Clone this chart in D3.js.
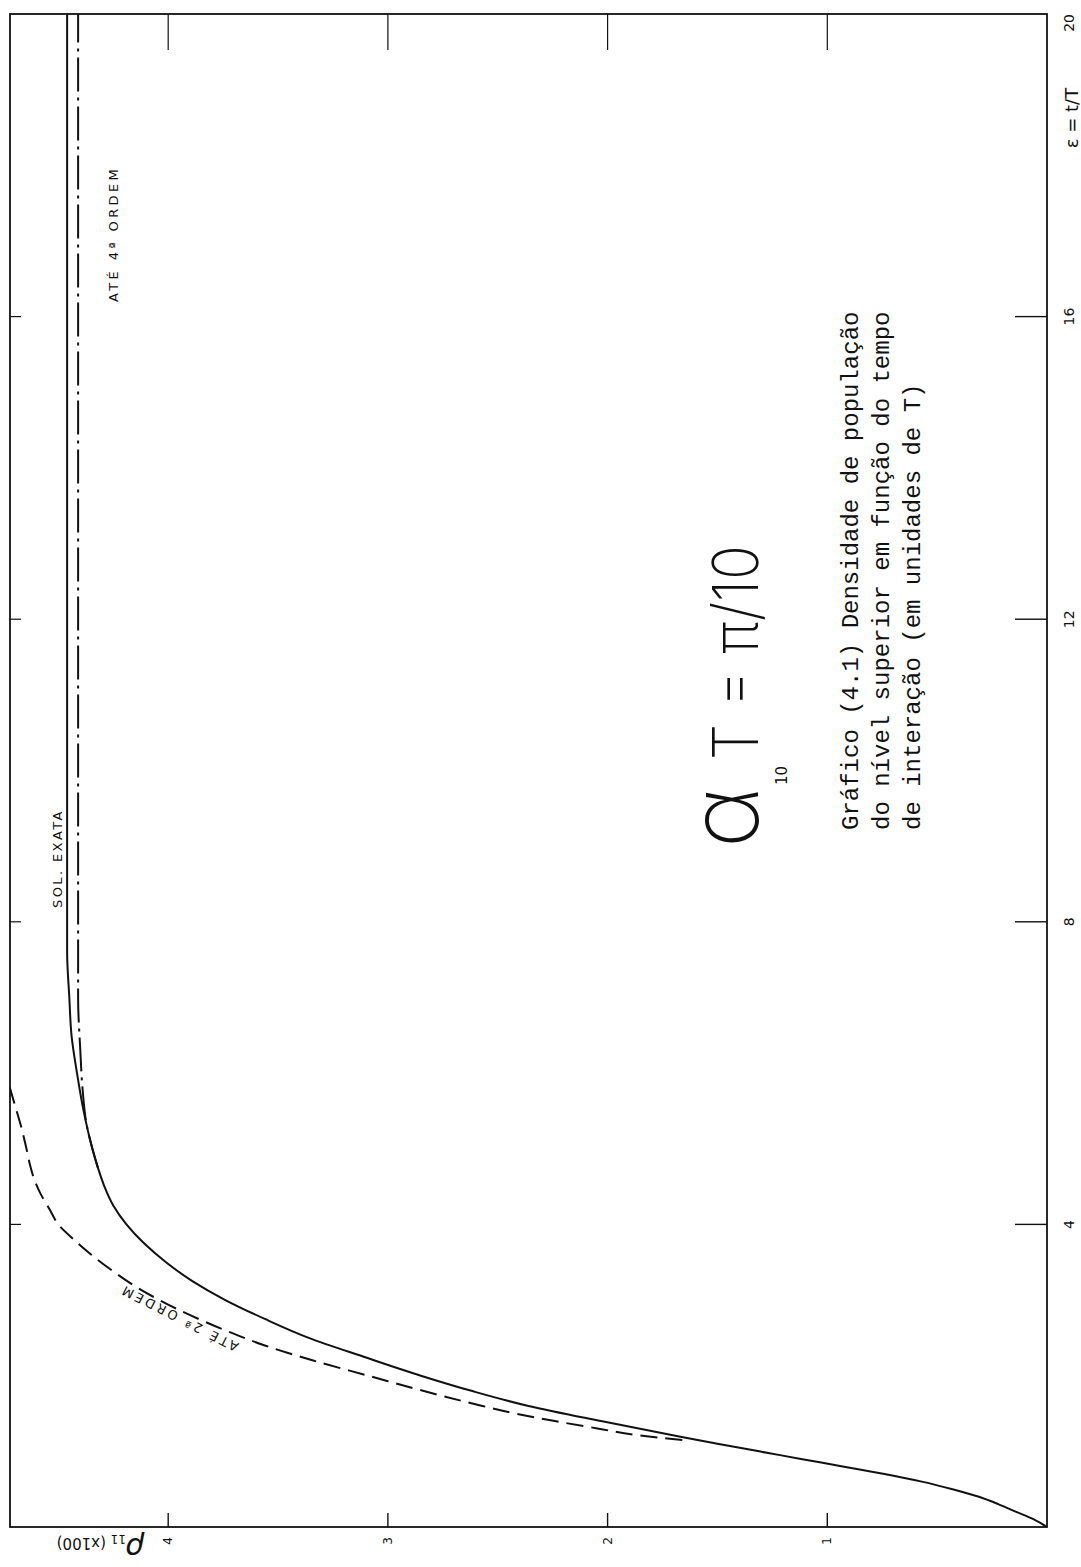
<!DOCTYPE html>
<html>
<head>
<meta charset="utf-8">
<script src="https://cdn.jsdelivr.net/npm/d3@7"></script>
<style>
  html, body { margin: 0; padding: 0; background: #fff; }
  svg { display: block; }
</style>
</head>
<body>
<svg id="chart" width="1081" height="1567"></svg>
<script>
// ---- data -------------------------------------------------------------
// time axis ε = t/T and population axis ρ11 (x100)
const epsTicks = [4, 8, 12, 16, 20];
const rhoTicks = [1, 2, 3, 4];

// exact solution
const exactEps = [0, 0.1, 0.2, 0.3, 0.4, 0.5, 0.6, 0.7, 0.8, 0.9, 1.0, 1.1, 1.2, 1.4, 1.6, 1.8, 2.0, 2.25, 2.5, 2.75, 3.0, 3.25, 3.5, 3.75, 4.0, 4.25, 4.5, 4.75, 5.0, 5.5, 6.0, 6.5, 7.0, 7.6, 9, 12, 16, 20];
const exactRho = [0, 0.06, 0.14, 0.22, 0.31, 0.43, 0.57, 0.74, 0.93, 1.12, 1.31, 1.50, 1.68, 2.03, 2.36, 2.62, 2.85, 3.11, 3.36, 3.56, 3.74, 3.89, 4.01, 4.11, 4.19, 4.25, 4.29, 4.32, 4.345, 4.385, 4.415, 4.44, 4.45, 4.46, 4.46, 4.46, 4.46, 4.46];

// perturbation series up to 2nd order
const order2Eps = [1.15, 1.22, 1.3, 1.4, 1.5, 1.6, 1.8, 2.0, 2.2, 2.4, 2.6, 2.8, 3.0, 3.2, 3.4, 3.6, 3.8, 4.0, 4.2, 4.4, 4.6, 4.8, 5.0, 5.3, 5.6, 6.0];
const order2Rho = [1.66, 1.88, 2.04, 2.24, 2.42, 2.57, 2.84, 3.09, 3.34, 3.56, 3.74, 3.90, 4.04, 4.16, 4.26, 4.35, 4.43, 4.50, 4.54, 4.58, 4.61, 4.63, 4.645, 4.67, 4.70, 4.74];

// perturbation series up to 4th order
const order4Eps = [4.75, 5.0, 5.3, 5.8, 6.3, 7.0, 8, 12, 16, 20];
const order4Rho = [4.32, 4.345, 4.37, 4.39, 4.40, 4.41, 4.41, 4.41, 4.41, 4.41];

const captionLines = [
  "Gráfico (4.1) Densidade de população",
  "do nível superior em função do tempo",
  "de interação (em unidades de T)"
];

// ---- layout -----------------------------------------------------------
const W = 1081, H = 1567;
const svg = d3.select("#chart");

// the sheet is drawn in landscape and turned a quarter turn counter-clockwise
const g = svg.append("g")
  .attr("transform", `translate(0,${H}) rotate(-90)`);

const x = d3.scaleLinear().domain([0, 20]).range([40, 1553]);   // ε
const y = d3.scaleLinear().domain([0, 4.72]).range([1047, 10]); // ρ11 (x100)

const ink = "#111";

g.append("defs").append("clipPath").attr("id", "plot-clip")
  .append("rect")
  .attr("x", x(0)).attr("y", y(4.72))
  .attr("width", x(20) - x(0)).attr("height", y(0) - y(4.72));

// frame
g.append("rect")
  .attr("x", x(0)).attr("y", y(4.72))
  .attr("width", x(20) - x(0)).attr("height", y(0) - y(4.72))
  .attr("fill", "none").attr("stroke", ink).attr("stroke-width", 1.8);

// ε ticks: long on the ρ=0 side, short on the opposite side
g.selectAll(".tick-eps-a").data(epsTicks.filter(d => d < 20)).join("line")
  .attr("x1", d => x(d)).attr("x2", d => x(d))
  .attr("y1", y(0)).attr("y2", y(0) - 32)
  .attr("stroke", ink).attr("stroke-width", 1.4);
g.selectAll(".tick-eps-b").data(epsTicks.filter(d => d < 20)).join("line")
  .attr("x1", d => x(d)).attr("x2", d => x(d))
  .attr("y1", y(4.72)).attr("y2", y(4.72) + 11)
  .attr("stroke", ink).attr("stroke-width", 1.2);

// ρ ticks: short at ε=0, long at ε=20
g.selectAll(".tick-rho-a").data(rhoTicks).join("line")
  .attr("x1", x(0)).attr("x2", x(0) + 14)
  .attr("y1", d => y(d)).attr("y2", d => y(d))
  .attr("stroke", ink).attr("stroke-width", 1.4);
g.selectAll(".tick-rho-b").data(rhoTicks).join("line")
  .attr("x1", x(20)).attr("x2", x(20) - 36)
  .attr("y1", d => y(d)).attr("y2", d => y(d))
  .attr("stroke", ink).attr("stroke-width", 1.2);

// tick labels
g.selectAll(".lab-eps").data(epsTicks).join("text")
  .attr("x", d => x(d))
  .attr("y", y(0) + 27)
  .attr("text-anchor", d => d === 20 ? "end" : "middle")
  .attr("font-family", "DejaVu Sans, sans-serif")
  .attr("font-size", 14)
  .attr("fill", ink)
  .text(d => d);

g.selectAll(".lab-rho").data(rhoTicks).join("text")
  .attr("x", x(0) - 14)
  .attr("y", d => y(d))
  .attr("dy", "0.35em")
  .attr("text-anchor", "middle")
  .attr("font-family", "DejaVu Sans, sans-serif")
  .attr("font-size", 12)
  .attr("fill", ink)
  .text(d => d);

// axis titles
g.append("text")
  .attr("x", 1449)
  .attr("y", 1078)
  .attr("text-anchor", "middle")
  .attr("font-family", "DejaVu Sans, sans-serif")
  .attr("font-size", 18)
  .attr("fill", ink)
  .text("ε = t/T");

const rhoTitle = g.append("text")
  .attr("transform", "translate(29,145) rotate(-90)")
  .attr("font-family", "DejaVu Sans, sans-serif")
  .attr("fill", ink);
rhoTitle.append("tspan").attr("font-size", 30).attr("font-style", "italic").text("ρ");
rhoTitle.append("tspan").attr("font-size", 12).attr("dy", 3).text("11");
rhoTitle.append("tspan").attr("font-size", 15).attr("dy", -3).text(" (x100)");

// ---- curves -----------------------------------------------------------
const line = d3.line()
  .x(d => x(d[0]))
  .y(d => y(d[1]))
  .curve(d3.curveMonotoneX);

const curves = g.append("g").attr("clip-path", "url(#plot-clip)");

curves.append("path")
  .datum(d3.zip(order4Eps, order4Rho))
  .attr("d", line)
  .attr("fill", "none").attr("stroke", ink).attr("stroke-width", 2)
  .attr("stroke-dasharray", "34,6,3,6");

curves.append("path")
  .datum(d3.zip(order2Eps, order2Rho))
  .attr("d", line)
  .attr("fill", "none").attr("stroke", ink).attr("stroke-width", 2)
  .attr("stroke-dasharray", "17,8");

curves.append("path")
  .datum(d3.zip(exactEps, exactRho))
  .attr("d", line)
  .attr("fill", "none").attr("stroke", ink).attr("stroke-width", 2);

// curve annotations
g.append("text")
  .attr("x", 659).attr("y", 62)
  .attr("font-family", "DejaVu Sans, sans-serif")
  .attr("font-size", 13)
  .attr("letter-spacing", 2.4)
  .attr("fill", ink)
  .text("SOL. EXATA");

g.append("text")
  .attr("x", 1265).attr("y", 118)
  .attr("font-family", "DejaVu Sans, sans-serif")
  .attr("font-size", 13)
  .attr("letter-spacing", 3.4)
  .attr("fill", ink)
  .text("ATÉ 4ª ORDEM");

g.append("text")
  .attr("transform", "translate(253,181) rotate(-63)")
  .attr("text-anchor", "middle")
  .attr("font-family", "DejaVu Sans, sans-serif")
  .attr("font-size", 13)
  .attr("letter-spacing", 3)
  .attr("fill", ink)
  .text("ATÉ 2ª ORDEM");

// ---- parameter and caption --------------------------------------------
g.append("text")
  .attr("x", 719).attr("y", 758)
  .attr("font-family", "Inter, DejaVu Sans, sans-serif")
  .attr("font-weight", 200)
  .attr("font-size", 95)
  .attr("fill", ink)
  .text("α");

g.append("text")
  .attr("x", 782).attr("y", 787)
  .attr("font-family", "DejaVu Sans, sans-serif")
  .attr("font-size", 15)
  .attr("fill", ink)
  .text("10");

g.append("text")
  .attr("x", 807).attr("y", 758)
  .attr("font-family", "Inter, DejaVu Sans, sans-serif")
  .attr("font-weight", 200)
  .attr("font-size", 63)
  .attr("textLength", 215)
  .attr("lengthAdjust", "spacingAndGlyphs")
  .attr("fill", ink)
  .text("T = π/10");

g.selectAll(".caption").data(captionLines).join("text")
  .attr("x", 737)
  .attr("y", (d, i) => 858 + i * 31)
  .attr("font-family", "Liberation Mono, monospace")
  .attr("font-size", 24)
  .attr("fill", ink)
  .text(d => d);
</script>
</body>
</html>
